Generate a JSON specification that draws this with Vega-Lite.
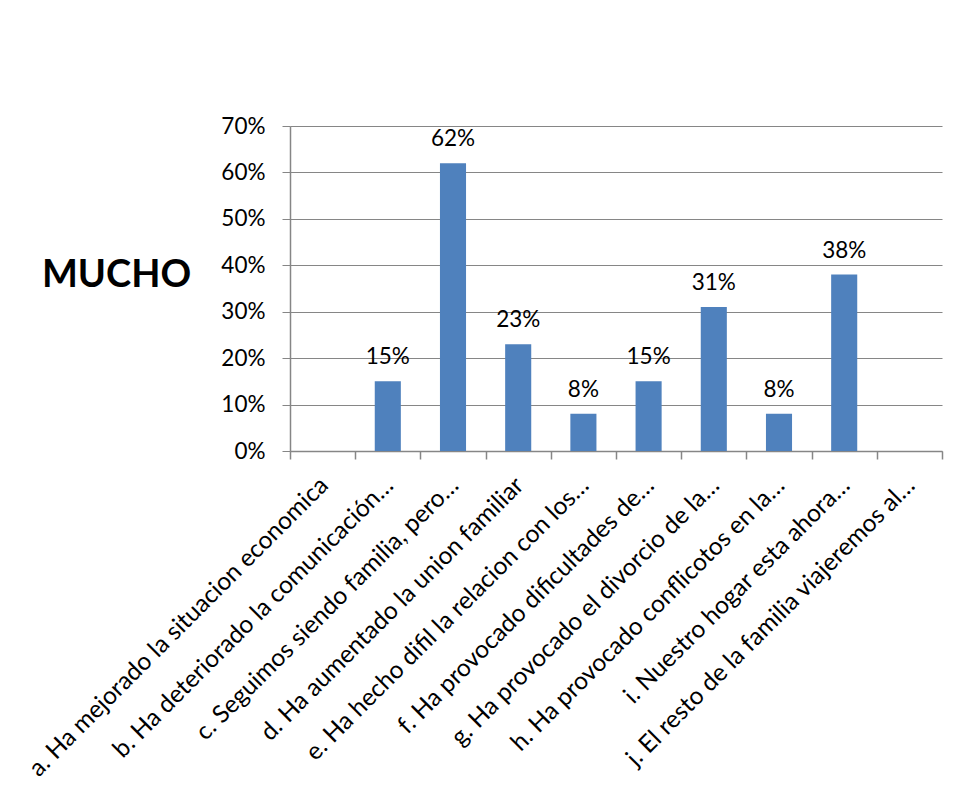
{
  "$schema": "https://vega.github.io/schema/vega-lite/v6.json",
  "autosize": {"type": "none"},
  "padding": {"left": 290, "top": 126, "right": 17, "bottom": 345},
  "width": 652,
  "height": 325,
  "background": "white",
  "config": {
    "font": "Lato",
    "view": {"stroke": null},
    "axis": {"labelFont": "Lato", "titleFont": "Lato"}
  },
  "data": {
    "values": [
      {"item": "a. Ha mejorado la situacion economica", "v": 0},
      {"item": "b. Ha deteriorado la comunicación…", "v": 0.15},
      {"item": "c. Seguimos siendo familia, pero…", "v": 0.62},
      {"item": "d. Ha aumentado la union familiar", "v": 0.23},
      {"item": "e. Ha hecho difil la relacion con los…", "v": 0.08},
      {"item": "f. Ha provocado dificultades de…", "v": 0.15},
      {"item": "g. Ha provocado el divorcio de la…", "v": 0.31},
      {"item": "h. Ha provocado conflicotos en la…", "v": 0.08},
      {"item": "i. Nuestro hogar esta ahora…", "v": 0.38},
      {"item": "j. El resto de la familia viajeremos al…", "v": 0}
    ]
  },
  "encoding": {
    "x": {
      "field": "item",
      "type": "nominal",
      "sort": null,
      "scale": {"paddingInner": 0, "paddingOuter": 0},
      "axis": {
        "title": null,
        "labelAngle": -45,
        "labelFontSize": 24.5,
        "labelColor": "black",
        "labelLimit": 0,
        "labelPadding": 14,
        "labelOffset": -7,
        "tickBand": "extent",
        "tickSize": 8,
        "tickColor": "#868686",
        "domainColor": "#868686",
        "domainWidth": 1.5,
        "tickWidth": 1.5
      }
    },
    "y": {
      "field": "v",
      "type": "quantitative",
      "scale": {"domain": [0, 0.7], "nice": false},
      "axis": {
        "values": [0, 0.1, 0.2, 0.3, 0.4, 0.5, 0.6, 0.7],
        "format": ".0%",
        "grid": true,
        "gridColor": "#868686",
        "gridWidth": 1.2,
        "domainColor": "#868686",
        "domainWidth": 1.5,
        "tickColor": "#868686",
        "tickSize": 8,
        "labelPadding": 17,
        "labelFontSize": 22.5,
        "labelColor": "black",
        "title": "MUCHO",
        "titleAngle": 0,
        "titleAlign": "center",
        "titleBaseline": "middle",
        "titleX": -174,
        "titleY": 149,
        "titleFontSize": 38,
        "titleFontWeight": "bold",
        "titleColor": "black"
      }
    }
  },
  "layer": [
    {"mark": {"type": "bar", "color": "#4F81BD", "width": {"band": 0.4}}},
    {
      "transform": [{"filter": "datum.v > 0"}],
      "mark": {"type": "text", "dy": -24, "fontSize": 22.5, "color": "black", "baseline": "middle"},
      "encoding": {"text": {"field": "v", "type": "quantitative", "format": ".0%"}}
    }
  ]
}
